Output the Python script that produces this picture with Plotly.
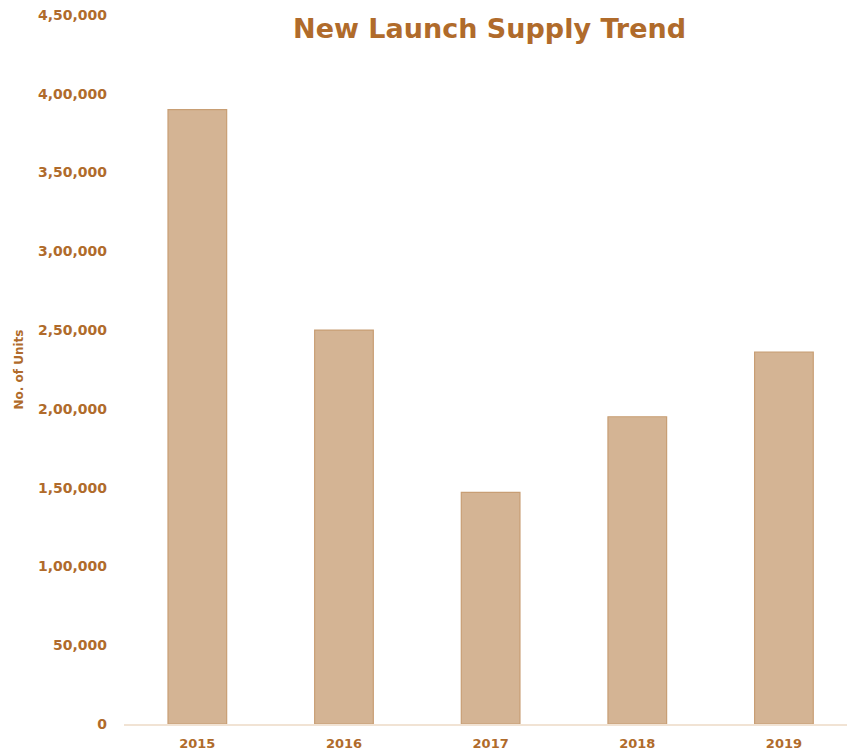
import plotly.graph_objects as go

years = ["2015", "2016", "2017", "2018", "2019"]
units = [390000, 250000, 147000, 195000, 236000]
y_ticks = [0, 50000, 100000, 150000, 200000, 250000, 300000, 350000, 400000, 450000]
y_tick_text = ["0", "50,000", "1,00,000", "1,50,000", "2,00,000", "2,50,000",
               "3,00,000", "3,50,000", "4,00,000", "4,50,000"]

brown = "#b06b2b"
font_family = "DejaVu Sans, Verdana, sans-serif"

fig = go.Figure(
    go.Bar(
        x=years,
        y=units,
        marker=dict(color="#d4b494", line=dict(color="#c89e74", width=1.2)),
    )
)

fig.update_layout(
    width=847,
    height=755,
    margin=dict(l=124, r=0, t=15, b=31),
    paper_bgcolor="white",
    plot_bgcolor="white",
    bargap=0.6,
    showlegend=False,
    title=dict(
        text="New Launch Supply Trend",
        x=0.578,
        xanchor="center",
        y=0.9616,
        yanchor="middle",
        font=dict(family=font_family, size=27, color=brown, weight="bold"),
    ),
)

fig.update_xaxes(
    type="category",
    range=[-0.5, 4.43],
    showgrid=False,
    showline=True,
    linecolor="#f1e3d4",
    linewidth=2,
    ticks="",
    ticklabelstandoff=6,
    tickfont=dict(family=font_family, size=13, color=brown, weight="bold"),
)

fig.update_yaxes(
    range=[0, 450000],
    tickvals=y_ticks,
    ticktext=y_tick_text,
    showgrid=False,
    zeroline=False,
    showline=False,
    ticks="",
    ticklabelstandoff=16,
    tickfont=dict(family=font_family, size=14, color=brown, weight="bold"),
    title=dict(
        text="No. of Units",
        standoff=11,
        font=dict(family=font_family, size=12, color=brown, weight="bold"),
    ),
)

fig.write_html("out.html")
